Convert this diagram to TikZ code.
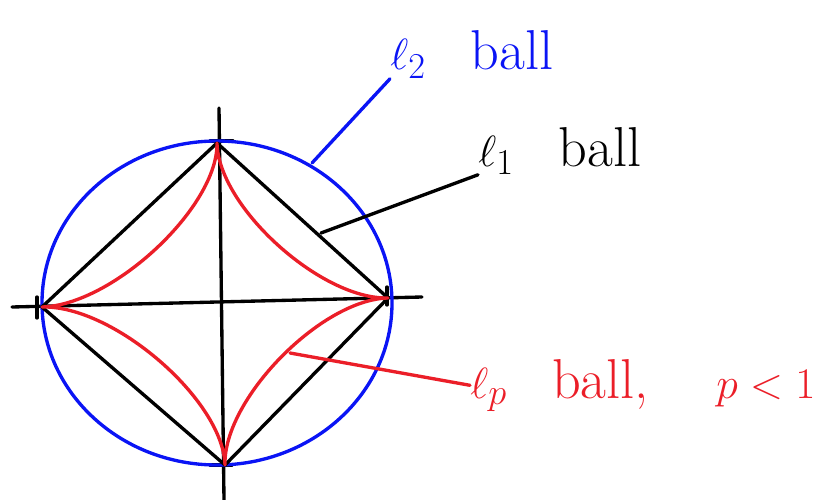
\documentclass[tikz,border=0pt]{standalone}
\usepackage{amsmath, amssymb}
\usetikzlibrary{calc}
\definecolor{balblue}{RGB}{10, 20, 245}
\definecolor{balred}{RGB}{235, 30, 40}

\begin{document}
\begin{tikzpicture}[x=0.02cm, y=-0.02cm,
    pen/.style={line width=1.9pt, line cap=round, line join=round},
    lab/.style={anchor=base west, inner sep=0pt, font=\fontsize{32}{38}\selectfont}
  ]
    \useasboundingbox (0,0) rectangle (838,500);
    % axes
    \coordinate (o) at (220,302);
    \coordinate (top) at (217,143);
    \coordinate (right) at (388,298);
    \coordinate (bottom) at (225,465);
    \coordinate (left) at (42,307);
    \draw[pen] (12,307) -- (422,297);
    \draw[pen] (219,108) -- (224,500);
    % ticks
    \draw[pen] (37,297) -- (37,318);
    \draw[pen] (387,287) -- (387,305);
    \draw[pen] (210,141) -- (233,141);
    \draw[pen] (210,465) -- (232,465);
    % l2 ball
    \draw[pen, balblue] (217,303) ellipse [x radius=175, y radius=162];
    % l1 ball
    \draw[pen] (top) -- (right) -- (bottom) -- (left) -- cycle;
    % lp ball
    \draw[pen, balred] (top) .. controls ($(top)!0.4!(o)$) and ($(right)!0.4!(o)$) .. (right)
      .. controls ($(right)!0.4!(o)$) and ($(bottom)!0.4!(o)$) .. (bottom)
      .. controls ($(bottom)!0.4!(o)$) and ($(left)!0.4!(o)$) .. (left)
      .. controls ($(left)!0.4!(o)$) and ($(top)!0.4!(o)$) .. (top);
    % labels
    \node[lab, balblue] (l2lab) at (390,70) {$\ell_2$\hspace{0.8em}ball};
    \node[lab] (l1lab) at (478,166) {$\ell_1$\hspace{0.8em}ball};
    \node[lab, balred] (lplab) at (470,398) {$\ell_p$\hspace{0.8em}ball,\hspace{1.2em}$p<1$};
    \coordinate (l2pt) at (312,163);
    \coordinate (l1pt) at (321,233);
    \coordinate (lppt) at (290,353);
    \draw[pen, balblue] (l2pt) -- (l2lab.south west);
    \draw[pen] (l1pt) -- (l1lab.south west);
    \draw[pen, balred] (lppt) -- (lplab.west);
  \end{tikzpicture}
\end{document}
